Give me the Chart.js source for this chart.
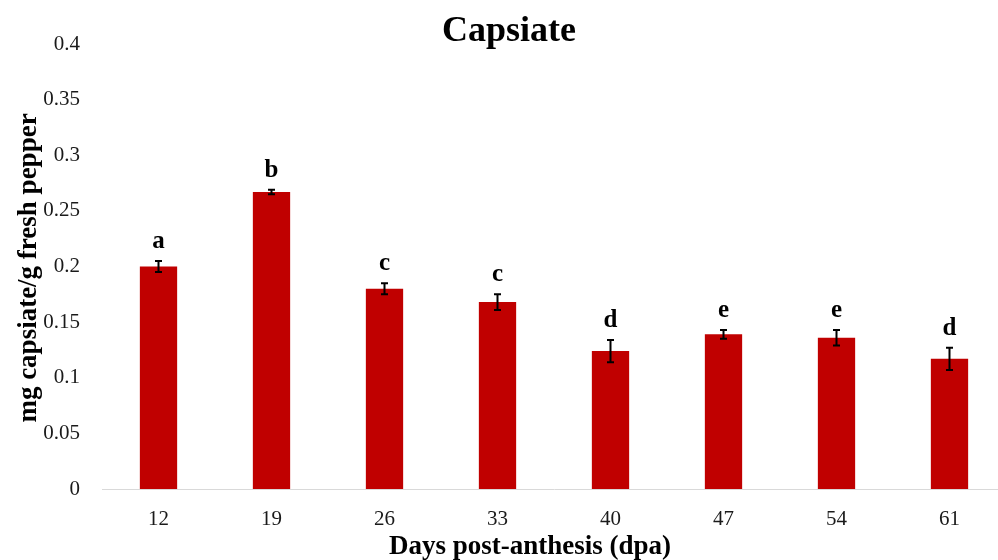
<!DOCTYPE html>
<html>
<head>
<meta charset="utf-8">
<script src="https://cdn.jsdelivr.net/npm/chart.js@4.4.1/dist/chart.umd.min.js"></script>
<style>
  html, body { margin: 0; padding: 0; background: #fff; overflow: hidden; }
  #wrap { width: 1010px; height: 560px; }
</style>
</head>
<body>
<div id="wrap"><canvas id="chart" width="1010" height="560"></canvas></div>
<script>
// Capsiate content by days post-anthesis
const days = ['12', '19', '26', '33', '40', '47', '54', '61'];
const capsiate = [0.200, 0.267, 0.180, 0.168, 0.124, 0.139, 0.136, 0.117];
const errors = [0.005, 0.002, 0.005, 0.007, 0.010, 0.004, 0.007, 0.010];
const letters = ['a', 'b', 'c', 'c', 'd', 'e', 'e', 'd'];
const yTicks = [0, 0.05, 0.1, 0.15, 0.2, 0.25, 0.3, 0.35, 0.4];

const FONT = '"Liberation Serif", "DejaVu Serif", serif';
const barColor = '#C00000';

// error bars, significance letters and titles
const annotate = {
    id: 'annotate',
    afterDatasetsDraw(chart) {
        const { ctx, scales: { x, y } } = chart;
        ctx.save();
        ctx.strokeStyle = '#000';
        ctx.lineWidth = 2;
        capsiate.forEach((v, i) => {
            const cx = x.getPixelForValue(i);
            const top = y.getPixelForValue(v + errors[i]);
            const bot = y.getPixelForValue(v - errors[i]);
            ctx.beginPath();
            ctx.moveTo(cx, top); ctx.lineTo(cx, bot);
            ctx.moveTo(cx - 3.5, top); ctx.lineTo(cx + 3.5, top);
            ctx.moveTo(cx - 3.5, bot); ctx.lineTo(cx + 3.5, bot);
            ctx.stroke();

            ctx.fillStyle = '#000';
            ctx.font = 'bold 25px ' + FONT;
            ctx.textAlign = 'center';
            ctx.textBaseline = 'alphabetic';
            ctx.fillText(letters[i], cx, top - 13);
        });

        // title
        ctx.font = 'bold 36px ' + FONT;
        ctx.textAlign = 'center';
        ctx.textBaseline = 'middle';
        ctx.fillText('Capsiate', 509, 32);

        // x axis title
        ctx.font = 'bold 27px ' + FONT;
        ctx.fillText('Days post-anthesis (dpa)', 530, 547);

        // y axis title
        ctx.translate(29, 268);
        ctx.rotate(-Math.PI / 2);
        ctx.fillText('mg capsiate/g fresh pepper', 0, 0);
        ctx.restore();
    }
};

new Chart(document.getElementById('chart'), {
    type: 'bar',
    data: {
        labels: days,
        datasets: [{
            data: capsiate,
            backgroundColor: barColor,
            borderWidth: 0,
            barPercentage: 0.33,
            categoryPercentage: 1
        }]
    },
    options: {
        responsive: false,
        animation: false,
        layout: { padding: { top: 44, right: 4, left: 0, bottom: 0 } },
        plugins: {
            legend: { display: false },
            tooltip: { enabled: false },
            title: { display: false }
        },
        scales: {
            x: {
                grid: { display: false, drawTicks: false },
                border: { display: true, color: '#d9d9d9', width: 1 },
                ticks: {
                    color: '#1a1a1a',
                    padding: 18,
                    font: { family: FONT, size: 21 }
                },
                afterFit: (s) => { s.height = 71; }
            },
            y: {
                min: 0,
                max: 0.4,
                afterBuildTicks: (s) => { s.ticks = yTicks.map(v => ({ value: v })); },
                grid: { display: false, drawTicks: false },
                border: { display: false },
                ticks: {
                    color: '#1a1a1a',
                    padding: 22,
                    font: { family: FONT, size: 21 },
                    callback: (v) => String(v)
                },
                afterFit: (s) => { s.width = 102; }
            }
        }
    },
    plugins: [annotate]
});
</script>
</body>
</html>
